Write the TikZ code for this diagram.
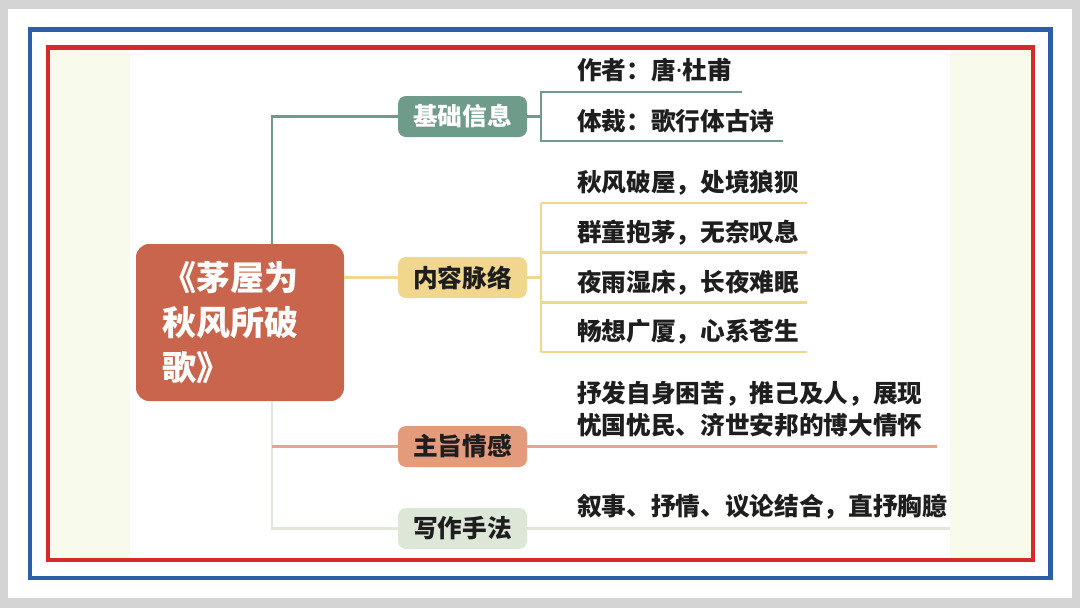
\documentclass[tikz,border=0pt]{standalone}
\usepackage{fontspec}
\setmainfont{Noto Sans CJK SC}
\newfontfamily\latina{Noto Sans}
\usepackage{xcolor}
\usetikzlibrary{positioning}
\definecolor{fondo}{HTML}{D4D4D4}
\definecolor{marco}{HTML}{2B5EA7}
\definecolor{carmin}{HTML}{D6292A}
\definecolor{crema}{HTML}{F8FAEC}
\definecolor{ladrillo}{HTML}{C8654C}
\definecolor{salvia}{HTML}{6F9B8B}
\definecolor{mostaza}{HTML}{F0D78D}
\definecolor{salmon}{HTML}{E39B7B}
\definecolor{menta}{HTML}{DDE7D7}
\definecolor{niebla}{HTML}{E1E7D9}
\definecolor{tinta}{HTML}{1E1E1E}
\tikzset{
  tema/.style={fill=ladrillo, text=white, rounded corners=10pt, minimum width=156pt,
               minimum height=117.75pt, text width=117pt, inner xsep=19.5pt, align=left,
               font=\fontsize{25.5pt}{33.75pt}\selectfont\bfseries},
  rama/.style={rounded corners=6pt, minimum width=96.75pt, minimum height=30.75pt,
               inner sep=0pt, text=tinta, font=\fontsize{18.5pt}{22pt}\selectfont\bfseries},
  hoja/.style={anchor=west, inner sep=0pt, text=tinta, align=left,
               font=\fontsize{18.5pt}{24pt}\selectfont\bfseries},
  linea/.style={line width=2pt},
}

\begin{document}
\begin{tikzpicture}[x=0.75pt, y=-0.75pt]
  % fondo y marcos
  \fill[fondo] (0,0) rectangle (1080,608);
  \fill[white] (8,9) rectangle (1072,598);
  \draw[marco, line width=3.4pt] (30,29.5) rectangle (1050.5,578);
  \fill[crema] (50,50) rectangle (1031,558);
  \fill[white] (130,50) rectangle (950,558);
  \draw[carmin, line width=3.4pt] (48,47.5) rectangle (1033,560);

  % tema central
  \node[tema] (tema) at (240,322.5) {《茅屋为\\秋风所破\\歌》};

  % ramas
  \node[rama, fill=salvia, text=white] (info) at (462.5,116.5) {基础信息};
  \node[rama, fill=mostaza] (cont) at (462.5,277.5) {内容脉络};
  \node[rama, fill=salmon] (emo) at (462.5,446.5) {主旨情感};
  \node[rama, fill=menta] (tec) at (462.5,528.5) {写作手法};

  \coordinate (eje) at (272,0);
  \coordinate (ci) at (541,0);
  \draw[linea, salvia] (tema.north -| eje) |- (info.west);
  \draw[linea, mostaza] (tema.east |- cont) -- (cont.west);
  \draw[linea, niebla] (tema.south -| eje) |- (tec.west);
  \draw[linea, salmon!90!white] (eje |- emo) -- (emo.west);

  %基础信息
  \node[hoja] (autor) at (577,70) {作者：唐{\latina\bfseries ·}杜甫};
  \node[hoja] (genero) at (577,121) {体裁：歌行体古诗};
  \coordinate (l1) at (742,92);
  \coordinate (l2) at (783,141);
  \draw[linea, salvia] (info.east) -- (info.east -| ci);
  \draw[linea, salvia] (l1) -- (l1 -| ci) -- (l2 -| ci) -- (l2);

  % 内容脉络
  \foreach \t [count=\i] in {秋风破屋，处境狼狈, 群童抱茅，无奈叹息, 夜雨湿床，长夜难眠, 畅想广厦，心系苍生}
    \node[hoja] (trama\i) at (577,{183+49.67*(\i-1)}) {\t};
  \foreach \i in {1,...,4}
    \coordinate (k\i) at (807,{203+49.67*(\i-1)});
  \draw[linea, mostaza] (cont.east) -- (cont.east -| ci);
  \draw[linea, mostaza] (k1 -| ci) -- (k4 -| ci);
  \foreach \i in {1,...,4}
    \draw[linea, mostaza] (k\i -| ci) -- (k\i);

  % 主旨情感
  \node[hoja] (tesis) at (577,409) {抒发自身困苦，推己及人，展现\\忧国忧民、济世安邦的博大情怀};
  \coordinate (e1) at (937,446.5);
  \draw[linea, salmon!90!white] (emo.east) -- (e1);

  % 写作手法
  \node[hoja] (estilo) at (577,507) {叙事、抒情、议论结合，直抒胸臆};
  \coordinate (w1) at (950,528.5);
  \draw[linea, niebla] (tec.east) -- (w1);
\end{tikzpicture}
\end{document}
